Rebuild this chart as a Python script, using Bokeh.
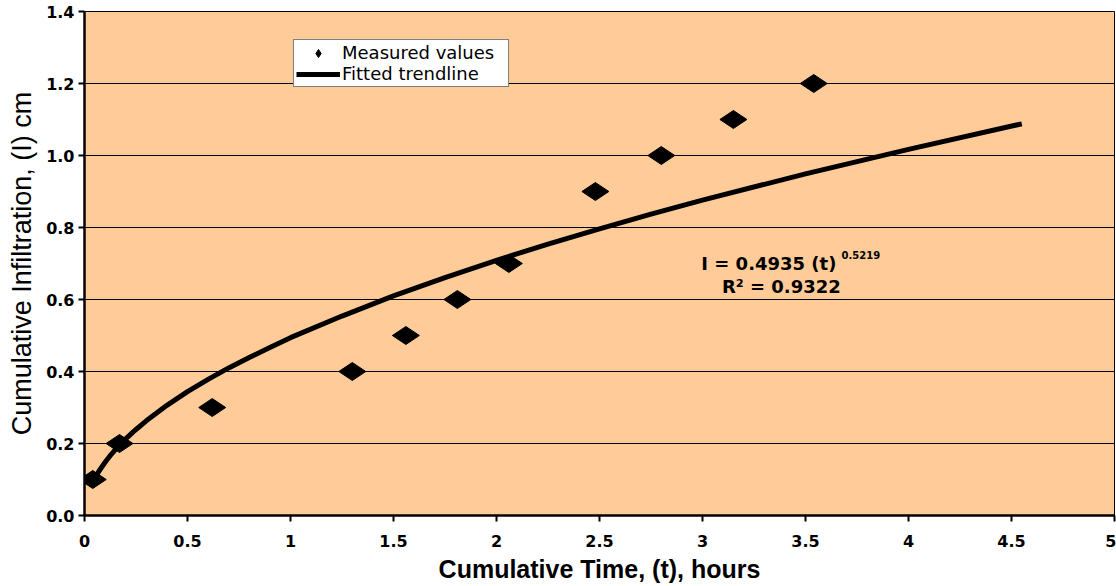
import math
from bokeh.plotting import figure
from bokeh.models import Legend, LegendItem, FixedTicker
from bokeh.core.properties import value
from bokeh.embed import file_html
from bokeh.resources import INLINE

# Measured values
time_h = [0.04, 0.17, 0.62, 1.30, 1.56, 1.81, 2.06, 2.48, 2.80, 3.15, 3.54]
infil_cm = [0.1, 0.2, 0.3, 0.4, 0.5, 0.6, 0.7, 0.9, 1.0, 1.1, 1.2]

# Fitted trendline
trend_t = [0.04, 0.05, 0.07, 0.1, 0.13, 0.17, 0.2, 0.25, 0.3, 0.4, 0.5, 0.6, 0.7, 0.8, 0.9, 1.0,
           1.25, 1.5, 1.75, 2.0, 2.25, 2.5, 2.75, 3.0, 3.5, 4.0, 4.55]
trend_i = [0.092, 0.103, 0.123, 0.148, 0.170, 0.196, 0.213, 0.239, 0.263, 0.306, 0.344, 0.378,
           0.410, 0.439, 0.467, 0.494, 0.554, 0.610, 0.661, 0.709, 0.754, 0.796, 0.837, 0.876,
           0.949, 1.017, 1.088]

x_ticks = [0, 0.5, 1, 1.5, 2, 2.5, 3, 3.5, 4, 4.5, 5]
x_tick_labels = ["0", "0.5", "1", "1.5", "2", "2.5", "3", "3.5", "4", "4.5", "5"]
y_ticks = [0.0, 0.2, 0.4, 0.6, 0.8, 1.0, 1.2, 1.4]
y_tick_labels = ["0.0", "0.2", "0.4", "0.6", "0.8", "1.0", "1.2", "1.4"]

eq_main = ["I = 0.4935 (t)"]
eq_exp = ["0.5219"]
eq_r2 = ["R\u00b2 = 0.9322"]

p = figure(frame_width=1030, frame_height=504, x_range=(0, 5), y_range=(0, 1.4),
           output_backend="svg", toolbar_location=None,
           min_border_left=84, min_border_top=11, min_border_right=2, min_border_bottom=70,
           background_fill_color="#FFCC99", border_fill_color="white")
p.outline_line_color = "black"
p.outline_line_width = 1

# grid
p.xgrid.grid_line_color = None
p.ygrid.grid_line_color = "black"
p.ygrid.grid_line_width = 1.2
p.ygrid.ticker = FixedTicker(ticks=y_ticks)

# axes
p.xaxis.ticker = FixedTicker(ticks=x_ticks)
p.yaxis.ticker = FixedTicker(ticks=y_ticks)
p.xaxis.major_label_overrides = {t: s for t, s in zip(x_ticks, x_tick_labels)}
p.yaxis.major_label_overrides = {t: s for t, s in zip(y_ticks, y_tick_labels)}
for ax in (p.xaxis, p.yaxis):
    ax.axis_line_color = "black"
    ax.axis_line_width = 2.5
    ax.major_tick_line_color = "black"
    ax.major_tick_line_width = 2
    ax.major_tick_out = 6
    ax.major_tick_in = 0
    ax.minor_tick_line_color = None
    ax.major_label_text_font = "DejaVu Sans"
    ax.major_label_text_font_style = "bold"
    ax.major_label_text_font_size = "16px"
    ax.major_label_text_color = "black"
p.xaxis.major_label_standoff = 13
p.yaxis.major_label_standoff = 4

p.xaxis.axis_label = "Cumulative Time, (t), hours"
p.xaxis.axis_label_text_font = "Liberation Sans"
p.xaxis.axis_label_text_font_style = "bold"
p.xaxis.axis_label_text_font_size = "25px"
p.xaxis.axis_label_text_color = "black"
p.xaxis.axis_label_standoff = 5

p.yaxis.axis_label = "Cumulative Infiltration, (I) cm"
p.yaxis.axis_label_text_font = "Liberation Sans"
p.yaxis.axis_label_text_font_style = "normal"
p.yaxis.axis_label_text_font_size = "27px"
p.yaxis.axis_label_text_color = "black"
p.yaxis.axis_label_standoff = 6

# trendline
line_r = p.line(trend_t, trend_i, line_color="black", line_width=5, line_join="round")

# measured points
pts_r = p.scatter(time_h, infil_cm, marker="diamond", angle=math.pi / 2, size=27,
                  fill_color="black", line_color="black")

# equation text
p.text(x=[3.65], y=[0.700], text=eq_main, text_align="right", text_baseline="middle",
       text_font=value("DejaVu Sans"), text_font_style="bold", text_font_size="18px",
       text_color="black")
p.text(x=[3.675], y=[0.724], text=eq_exp, text_align="left", text_baseline="middle",
       text_font=value("DejaVu Sans"), text_font_style="bold", text_font_size="10px",
       text_color="black")
p.text(x=[3.383], y=[0.636], text=eq_r2, text_align="center", text_baseline="middle",
       text_font=value("DejaVu Sans"), text_font_style="bold", text_font_size="18px",
       text_color="black")

legend = Legend(items=[LegendItem(label="Measured values", renderers=[pts_r]),
                       LegendItem(label="Fitted trendline", renderers=[line_r])],
                location=(209, 428))
legend.border_line_color = "black"
legend.border_line_width = 1.5
legend.background_fill_color = "white"
legend.background_fill_alpha = 1
legend.padding = 2
legend.margin = 0
legend.spacing = 0
legend.glyph_width = 44
legend.glyph_height = 20
legend.label_height = 20
legend.label_width = 164
legend.label_standoff = 2
legend.label_text_font = "DejaVu Sans"
legend.label_text_font_size = "18px"
legend.label_text_color = "black"
p.add_layout(legend)

open("out.html", "w").write(file_html(p, INLINE))
